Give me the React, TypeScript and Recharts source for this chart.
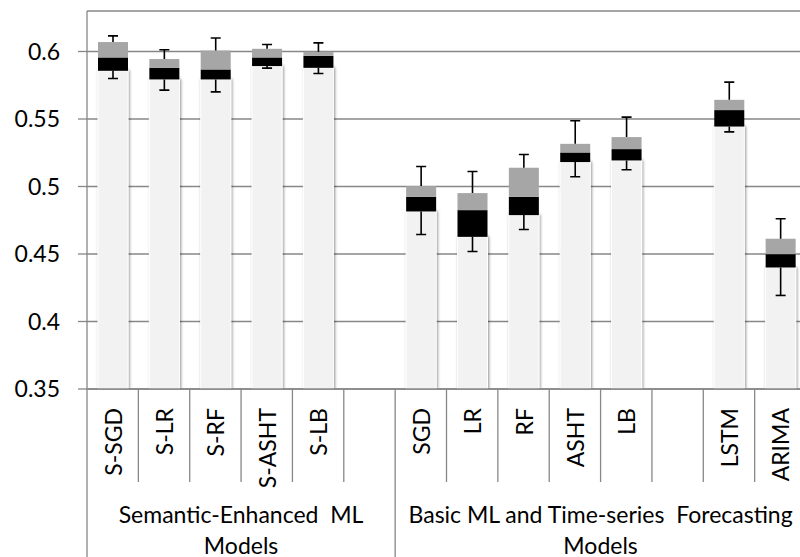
import React from 'react';
import { BarChart, Bar, XAxis, YAxis, CartesianGrid } from 'recharts';

const categories = ['S-SGD', 'S-LR', 'S-RF', 'S-ASHT', 'S-LB', '', 'SGD', 'LR', 'RF', 'ASHT', 'LB', '', 'LSTM', 'ARIMA'];
const minValues = [0.5800, 0.5714, 0.5701, 0.5877, 0.5837, null, 0.4644, 0.4519, 0.4681, 0.5072, 0.5124, null, 0.5405, 0.4193];
const q1Values = [0.5857, 0.5793, 0.5793, 0.5892, 0.5879, null, 0.4815, 0.4627, 0.4788, 0.5181, 0.5193, null, 0.5444, 0.4400];
const medianValues = [0.5956, 0.5880, 0.5867, 0.5956, 0.5968, null, 0.4924, 0.4825, 0.4924, 0.5252, 0.5277, null, 0.5566, 0.4499];
const q3Values = [0.6070, 0.5944, 0.6007, 0.6020, 0.5998, null, 0.5003, 0.4951, 0.5139, 0.5316, 0.5366, null, 0.5642, 0.4613];
const maxValues = [0.6116, 0.6013, 0.6100, 0.6052, 0.6064, null, 0.5148, 0.5111, 0.5237, 0.5487, 0.5514, null, 0.5773, 0.4761];
const yTicks = [0.35, 0.4, 0.45, 0.5, 0.55, 0.6];
const groupLabels = [
  ['Semantic-Enhanced\u00a0\u00a0ML', 'Models'],
  ['Basic ML and Time-series\u00a0\u00a0Forecasting', 'Models'],
];
const groupStarts = [0, 6];
const groupSpans = [6, 8];

const data = categories.map((name, i) => {
  const has = minValues[i] != null;
  return {
    name,
    min: minValues[i],
    q1: q1Values[i],
    med: medianValues[i],
    q3: q3Values[i],
    max: maxValues[i],
    base: has ? (q1Values[i] as number) : null,
    lowBox: has ? (medianValues[i] as number) - (q1Values[i] as number) : null,
    highBox: has ? (q3Values[i] as number) - (medianValues[i] as number) : null,
    upWhisker: has ? (maxValues[i] as number) - (q3Values[i] as number) : null,
  };
});

const CHART_W = 810;
const CHART_H = 557;
const Y_AXIS_W = 87;
const MARGIN = { top: 11, right: 4, bottom: 0, left: 0 };
const X_AXIS_H = 168;
const PLOT_W = CHART_W - Y_AXIS_W - MARGIN.left - MARGIN.right;
const SLOT = PLOT_W / categories.length;
const FONT = 'Lato, "Open Sans", sans-serif';
const AXIS_GRAY = '#878787';

const BaseShape = (props: any) => {
  const { x, y, width, height, payload } = props;
  if (!payload || payload.min == null || !(height > 0)) return <g />;
  return (
    <g>
      <defs>
        <filter id="barShadow" x="-30%" y="-5%" width="160%" height="110%">
          <feGaussianBlur in="SourceAlpha" stdDeviation="1.6" />
          <feOffset dx="0.5" dy="0" result="b" />
          <feComponentTransfer>
            <feFuncA type="linear" slope="0.45" />
          </feComponentTransfer>
          <feMerge>
            <feMergeNode />
            <feMergeNode in="SourceGraphic" />
          </feMerge>
        </filter>
      </defs>
      <rect x={x} y={y} width={width} height={height} fill="#f2f2f2" stroke="#ffffff" strokeWidth={1} filter="url(#barShadow)" />
    </g>
  );
};

const LowBoxShape = (props: any) => {
  const { x, y, width, height, payload } = props;
  if (!payload || payload.min == null || !(height > 0)) return <g />;
  const ppu = height / (payload.med - payload.q1);
  const len = (payload.q1 - payload.min) * ppu;
  const cx = x + width / 2;
  const bottom = y + height;
  return (
    <g>
      <line x1={cx} y1={bottom} x2={cx} y2={bottom + len} stroke="#000" strokeWidth={1.6} />
      <line x1={cx - 5} y1={bottom + len} x2={cx + 5} y2={bottom + len} stroke="#000" strokeWidth={1.6} />
      <rect x={x} y={y} width={width} height={height} fill="#000000" />
    </g>
  );
};

const HighBoxShape = (props: any) => {
  const { x, y, width, height, payload } = props;
  if (!payload || payload.min == null || !(height > 0)) return <g />;
  return <rect x={x} y={y} width={width} height={height} fill="#a6a6a6" />;
};

const UpWhiskerShape = (props: any) => {
  const { x, y, width, height, payload } = props;
  if (!payload || payload.min == null) return <g />;
  const cx = x + width / 2;
  return (
    <g>
      <line x1={cx} y1={y + height} x2={cx} y2={y} stroke="#000" strokeWidth={1.6} />
      <line x1={cx - 5} y1={y} x2={cx + 5} y2={y} stroke="#000" strokeWidth={1.6} />
    </g>
  );
};

const CategoryTick = (props: any) => {
  const { x, y, payload, index } = props;
  const i = payload && payload.index != null ? payload.index : index;
  const label = categories[i];
  const left = x - SLOT / 2;
  const right = x + SLOT / 2;
  const isGroupStart = groupStarts.includes(i);
  const gi = groupStarts.findIndex((s, k) => i === s + groupSpans[k] / 2);
  const labelY = y + 19;
  return (
    <g>
      <line x1={left} y1={y} x2={left} y2={isGroupStart ? CHART_H : y + 93} stroke={AXIS_GRAY} strokeWidth={1.3} />
      {i === categories.length - 1 && (
        <line x1={right} y1={y} x2={right} y2={CHART_H} stroke={AXIS_GRAY} strokeWidth={1.3} />
      )}
      {label && (
        <text
          x={x}
          y={labelY}
          transform={`rotate(-90, ${x}, ${labelY})`}
          textAnchor="end"
          dominantBaseline="central"
          fontSize={23}
          fontFamily={FONT}
          fill="#000"
        >
          {label}
        </text>
      )}
      {gi >= 0 && (
        <text x={left} textAnchor="middle" fontSize={23} fontFamily={FONT} fill="#000">
          <tspan x={left} y={y + 133.5}>{groupLabels[gi][0]}</tspan>
          <tspan x={left} y={y + 164.5}>{groupLabels[gi][1]}</tspan>
        </text>
      )}
    </g>
  );
};

export default function App() {
  return (
    <div style={{ position: 'fixed', left: 0, top: 0, width: 800, height: 557, overflow: 'hidden', background: '#fff' }}>
      <BarChart width={CHART_W} height={CHART_H} data={data} margin={MARGIN} barSize={30} style={{ fontFamily: FONT }}>
        <CartesianGrid vertical={false} stroke={AXIS_GRAY} strokeWidth={1.3} />
        <XAxis
          dataKey="name"
          interval={0}
          height={X_AXIS_H}
          tickSize={0}
          tickMargin={0}
          tickLine={false}
          axisLine={{ stroke: AXIS_GRAY, strokeWidth: 1.3 }}
          tick={<CategoryTick />}
        />
        <YAxis
          width={Y_AXIS_W}
          domain={[0.35, 0.63]}
          allowDataOverflow
          ticks={yTicks}
          interval={0}
          tickSize={9}
          tickMargin={18}
          tickFormatter={(v: number) => String(v)}
          axisLine={{ stroke: AXIS_GRAY, strokeWidth: 1.3 }}
          tickLine={{ stroke: AXIS_GRAY, strokeWidth: 1.3 }}
          tick={{ fill: '#000', fontSize: 23, fontFamily: FONT }}
        />
        <Bar dataKey="base" stackId="box" shape={<BaseShape />} isAnimationActive={false} />
        <Bar dataKey="lowBox" stackId="box" shape={<LowBoxShape />} isAnimationActive={false} />
        <Bar dataKey="highBox" stackId="box" shape={<HighBoxShape />} isAnimationActive={false} />
        <Bar dataKey="upWhisker" stackId="box" shape={<UpWhiskerShape />} isAnimationActive={false} />
      </BarChart>
    </div>
  );
}
